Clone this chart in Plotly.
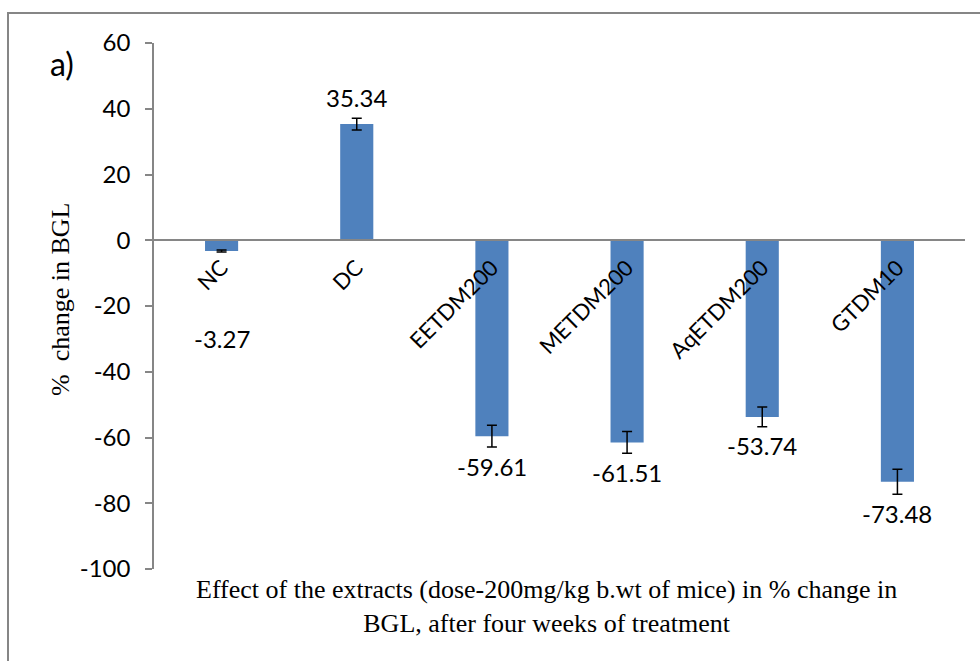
import plotly.graph_objects as go

categories = ["NC", "DC", "EETDM200", "METDM200", "AqETDM200", "GTDM10"]
values = [-3.27, 35.34, -59.61, -61.51, -53.74, -73.48]
errors = [0.3, 1.8, 3.3, 3.3, 3.0, 3.8]
label_texts = ["-3.27", "35.34", "-59.61", "-61.51", "-53.74", "-73.48"]
y_ticks = [60, 40, 20, 0, -20, -40, -60, -80, -100]
y_tick_text = ["60", "40", "20", "0", "-20", "-40", "-60", "-80", "-100"]

W, H = 980, 661
L, R, T, B = 154, 15, 43, 92
pw, ph = W - L - R, H - T - B

SANS = "Lato"
SERIF = "Liberation Serif"

fig = go.Figure()
fig.add_trace(go.Bar(
    x=categories, y=values, width=0.245,
    marker=dict(color="#4F81BD", line=dict(width=0)),
    error_y=dict(type="data", array=errors, visible=True, color="black",
                 thickness=1.5, width=5),
    showlegend=False,
))

annotations = []
for i, (c, v, e, t) in enumerate(zip(categories, values, errors, label_texts)):
    if c == "NC":
        y, shift = -30, 0
    elif v >= 0:
        y, shift = v + e, 21
    else:
        y, shift = v - e, -19
    annotations.append(dict(x=c, y=y, xref="x", yref="y", text=t, showarrow=False,
                            xanchor="center", yanchor="middle", yshift=shift,
                            font=dict(family=SANS, size=24, color="black")))

def px_x(p):
    return (p - L) / pw

def px_y(p):
    return (H - B - p) / ph

annotations.append(dict(x=px_x(60), y=px_y(299), xref="paper", yref="paper",
                        xanchor="center", yanchor="middle",
                        text="%\u00a0 change in BGL", textangle=-90, showarrow=False,
                        font=dict(family=SERIF, size=26, color="black")))
annotations.append(dict(x=px_x(546), y=px_y(606), xref="paper", yref="paper",
                        xanchor="center", yanchor="middle",
                        text="Effect of the extracts (dose-200mg/kg b.wt of mice) in % change in<br>BGL, after four weeks of treatment",
                        showarrow=False, align="center",
                        font=dict(family=SERIF, size=26, color="black")))
annotations.append(dict(x=px_x(62), y=px_y(63), xref="paper", yref="paper",
                        xanchor="center", yanchor="middle",
                        text="a)", showarrow=False,
                        font=dict(family=SANS, size=32, color="black")))

zero_pos = (0 - min(y_ticks)) / (max(y_ticks) - min(y_ticks))

fig.update_layout(
    width=W, height=H,
    margin=dict(l=L, r=R, t=T, b=B),
    paper_bgcolor="white", plot_bgcolor="white",
    annotations=annotations,
    xaxis=dict(anchor="free", position=zero_pos, showline=True, linecolor="#868686",
               linewidth=2, ticks="", tickangle=-45, showgrid=False,
               ticklabelstandoff=5,
               tickfont=dict(family=SANS, size=22, color="black"),
               range=[-0.5, len(categories) - 0.5]),
    yaxis=dict(range=[min(y_ticks), max(y_ticks)], tickvals=y_ticks, ticktext=y_tick_text,
               showgrid=False,
               zeroline=False, showline=True, linecolor="#868686", linewidth=1.5,
               ticks="outside", ticklen=7, tickcolor="#868686", tickwidth=1.5,
               ticklabelstandoff=10,
               tickfont=dict(family=SANS, size=24, color="black")),
    shapes=[dict(type="rect", xref="paper", yref="paper",
                 x0=px_x(8), x1=px_x(990), y0=px_y(13), y1=px_y(700),
                 line=dict(color="#868686", width=2), layer="above")],
)

fig.write_html("out.html")
